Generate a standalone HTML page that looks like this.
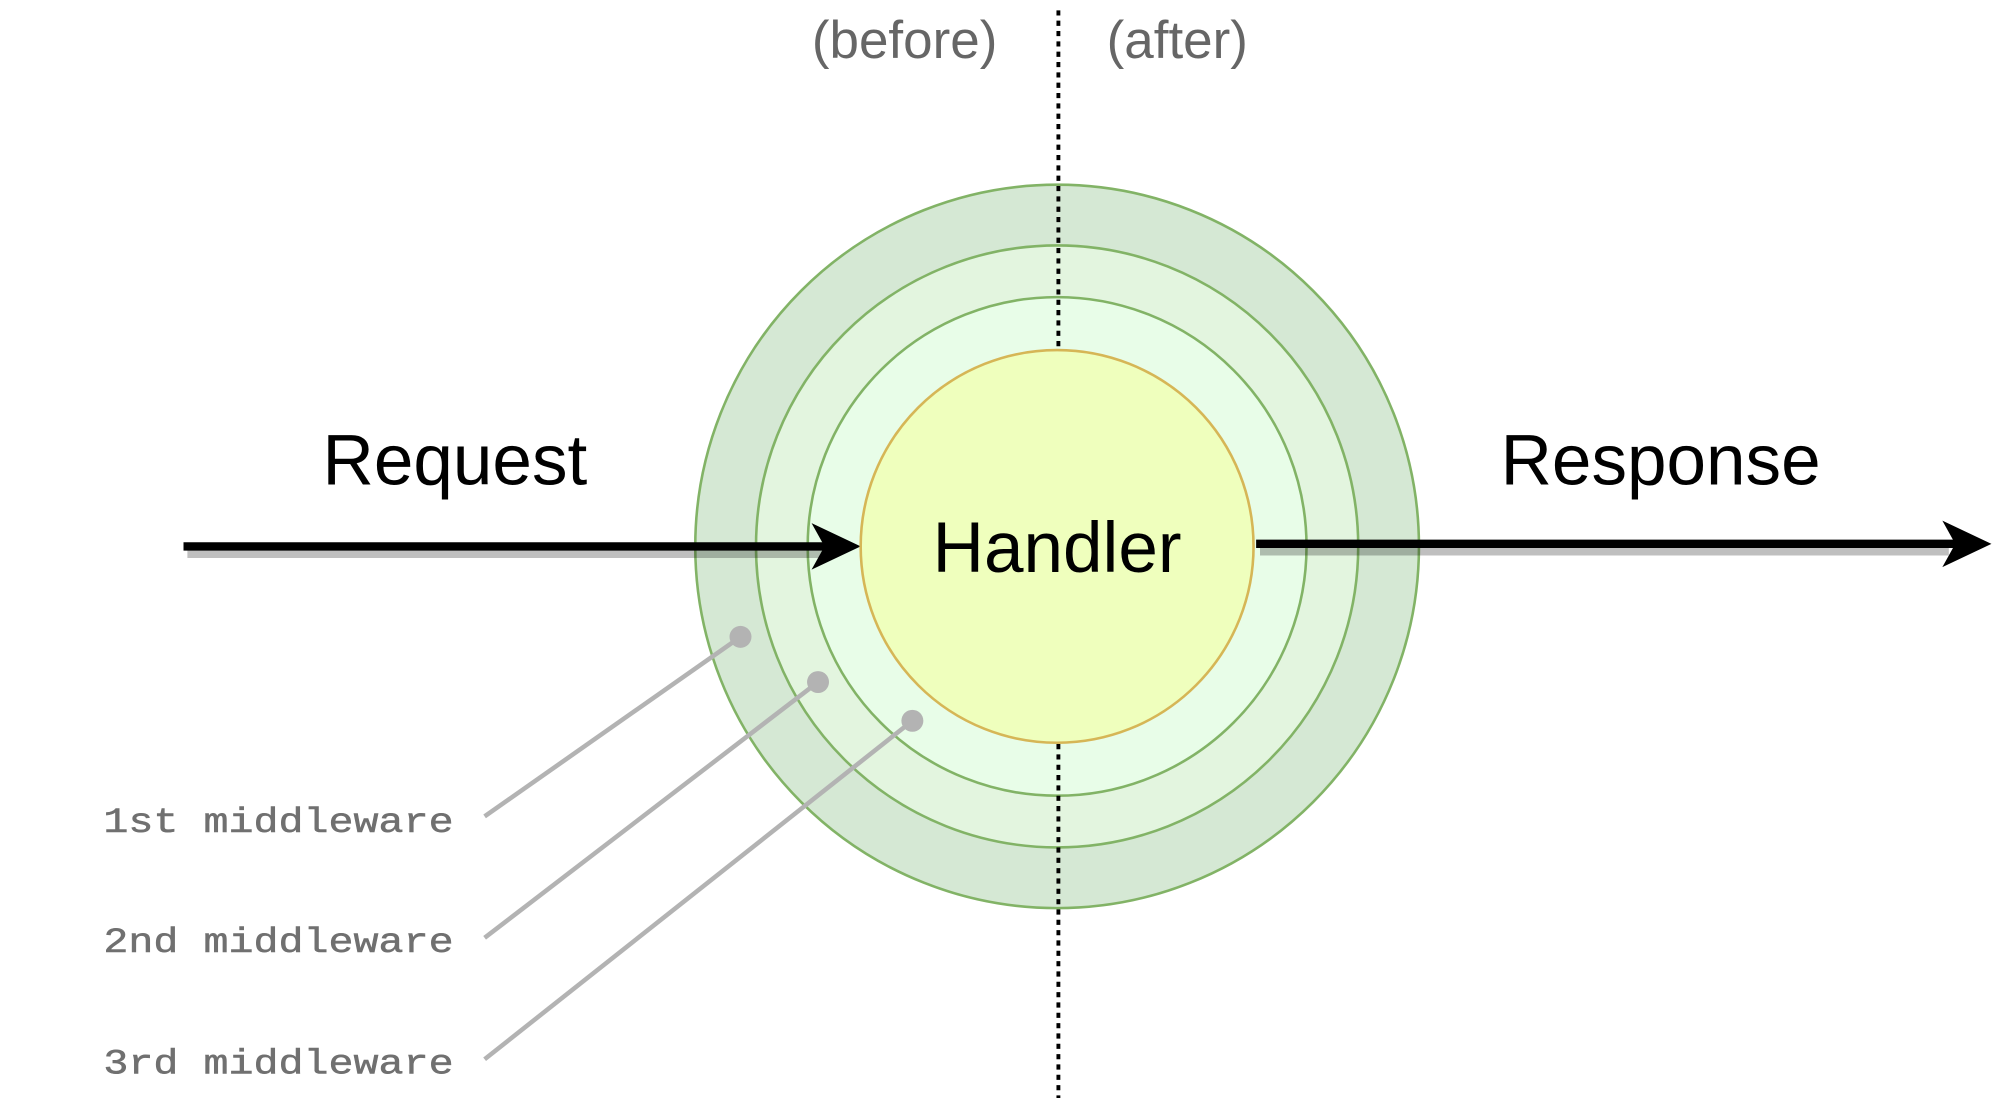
<!DOCTYPE html>
<html><head><meta charset="utf-8"><style>
html,body{margin:0;padding:0;background:#fff;}
svg{display:block;}
</style></head><body>
<svg width="2016" height="1098" viewBox="0 0 1560 850" preserveAspectRatio="none" xmlns="http://www.w3.org/2000/svg">
<rect width="1560" height="850" fill="#fff"/>
<circle cx="818" cy="423" r="280" fill="#d5e8d4" stroke="#82b366" stroke-width="2"/>
<circle cx="818" cy="423" r="233" fill="#e3f5df" stroke="#82b366" stroke-width="2"/>
<circle cx="818" cy="423" r="193" fill="#e8fde8" stroke="#82b366" stroke-width="2"/>
<line x1="819" y1="8" x2="819" y2="850" stroke="#000" stroke-width="3" stroke-dasharray="4,4"/>
<line x1="145" y1="429" x2="640" y2="429" stroke="rgba(0,0,0,0.25)" stroke-width="6"/>
<line x1="142" y1="423" x2="640" y2="423" stroke="#000" stroke-width="6.5"/>
<polygon points="628,405 666,423 628,441 638,423" fill="#000"/>
<circle cx="818" cy="423" r="152" fill="#efffbd" stroke="#d6b656" stroke-width="2"/>
<line x1="975" y1="427" x2="1508" y2="427" stroke="rgba(0,0,0,0.25)" stroke-width="6"/>
<line x1="972" y1="421" x2="1515" y2="421" stroke="#000" stroke-width="6.5"/>
<polygon points="1503,403 1541,421 1503,439 1513,421" fill="#000"/>
<g stroke="#b3b3b3" stroke-width="3.5" fill="#b3b3b3">
<line x1="375" y1="632" x2="573" y2="493"/><circle cx="573" cy="493" r="8.5" stroke="none"/>
<line x1="375" y1="726" x2="633" y2="528"/><circle cx="633" cy="528" r="8.5" stroke="none"/>
<line x1="375" y1="820" x2="706" y2="558"/><circle cx="706" cy="558" r="8.5" stroke="none"/>
</g>
<g font-family="Liberation Sans, sans-serif" text-anchor="middle">
<text x="700" y="45" font-size="41" fill="#666">(before)</text>
<text x="911" y="45" font-size="41" fill="#666">(after)</text>
<text x="352" y="375" font-size="55" fill="#000">Request</text>
<text x="1285" y="375" font-size="55" fill="#000">Response</text>
<text x="818" y="443" font-size="55" fill="#000">Handler</text>
</g>
<g font-family="Liberation Mono, monospace" font-size="27" fill="#707070" stroke="#707070" stroke-width="0.4">
<text x="80" y="644" textLength="271" lengthAdjust="spacingAndGlyphs">1st middleware</text>
<text x="80" y="737" textLength="271" lengthAdjust="spacingAndGlyphs">2nd middleware</text>
<text x="80" y="831" textLength="271" lengthAdjust="spacingAndGlyphs">3rd middleware</text>
</g>
</svg>
</body></html>
